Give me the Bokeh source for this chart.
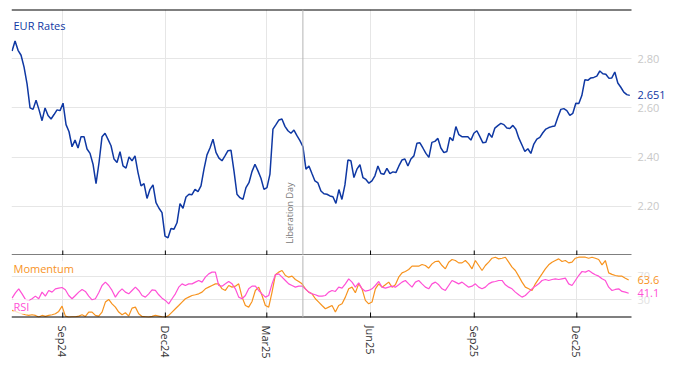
import math
import pandas as pd
from bokeh.plotting import figure
from bokeh.layouts import column
from bokeh.models import (Range1d, FixedTicker, DatetimeTickFormatter, Span, Label,
                          BoxAnnotation)
from bokeh.embed import file_html
from bokeh.resources import INLINE

# ---------------- data ----------------
rate_start = "2024-07-18"
rate_end = "2026-01-17"
eur_rates = [
    2.831, 2.872, 2.834, 2.814, 2.766, 2.698, 2.600, 2.594, 2.631, 2.592,
    2.548, 2.600, 2.569, 2.555, 2.573, 2.592, 2.589, 2.619, 2.532, 2.503,
    2.442, 2.469, 2.437, 2.483, 2.483, 2.433, 2.415, 2.371, 2.292, 2.378,
    2.483, 2.497, 2.472, 2.446, 2.392, 2.378, 2.422, 2.364, 2.355, 2.401,
    2.385, 2.405, 2.337, 2.283, 2.292, 2.232, 2.269, 2.287, 2.215, 2.192,
    2.174, 2.079, 2.072,
    2.110, 2.107, 2.133, 2.211, 2.192, 2.238, 2.249, 2.247, 2.269, 2.260,
    2.283, 2.351, 2.409, 2.437, 2.473, 2.419, 2.396, 2.385, 2.405, 2.426,
    2.428, 2.344, 2.249, 2.235, 2.228, 2.276, 2.296, 2.341, 2.371, 2.344,
    2.314, 2.269, 2.276, 2.331, 2.514, 2.532, 2.551, 2.555, 2.525, 2.507,
    2.497, 2.510, 2.487, 2.467, 2.442, 2.351, 2.364, 2.333, 2.303, 2.295, 2.262,
    2.251, 2.249, 2.242, 2.239, 2.212, 2.268, 2.228, 2.287, 2.388, 2.385,
    2.317, 2.351, 2.369, 2.317, 2.309, 2.294, 2.303, 2.324, 2.364, 2.333,
    2.330, 2.354, 2.333, 2.340, 2.337, 2.364, 2.388, 2.392, 2.364, 2.392,
    2.405, 2.456, 2.458, 2.437, 2.415, 2.399, 2.460, 2.464, 2.476, 2.437,
    2.418, 2.423, 2.480, 2.467, 2.524, 2.491, 2.483, 2.483, 2.483, 2.469, 2.497,
    2.507, 2.483, 2.458, 2.460, 2.497, 2.480, 2.518, 2.528, 2.537, 2.532,
    2.518, 2.516, 2.529, 2.513, 2.477, 2.450, 2.423, 2.434, 2.415, 2.453,
    2.473, 2.480, 2.499, 2.514, 2.520, 2.524, 2.526, 2.562, 2.594, 2.597,
    2.589, 2.570, 2.578, 2.619, 2.618, 2.650, 2.714, 2.712, 2.722, 2.724,
    2.729, 2.750, 2.739, 2.737, 2.721, 2.722, 2.746, 2.701, 2.684, 2.664,
    2.654, 2.651,
]

ind_start = "2024-07-18"
ind_end = "2026-01-16"
rsi = [
    32.8, 41.8, 48.6, 40.1, 30.6, 28.9, 31.7, 36.2, 31.7, 43.0,
    36.2, 45.8, 43.0, 48.6, 49.7, 50.8, 46.9, 37.3, 31.7, 37.3,
    43.0, 47.5, 44.1, 36.2, 30.0, 31.7, 41.8, 54.2, 59.9, 54.2,
    45.8, 34.5, 43.0, 48.6, 43.0, 40.1, 45.8, 51.4, 45.8, 37.3,
    34.5, 40.1, 46.9, 45.8, 38.5, 32.8, 28.9, 23.2, 31.7, 40.1,
    51.4, 57.0, 54.2, 57.0, 57.0, 59.9, 62.7, 59.9, 68.3, 73.9,
    76.8, 76.8, 54.2, 53.1, 57.0, 61.0, 57.0, 48.6, 34.5, 31.7,
    37.3, 48.6, 53.1, 53.1, 45.8, 40.1, 34.5, 37.3, 57.0, 72.3,
    73.9, 68.3, 62.7, 57.0, 54.2, 51.4, 53.1, 53.1, 48.6, 43.0,
    40.1, 38.5, 36.2, 36.2,
    37.3, 43.0, 45.8, 44.1, 51.4, 49.7, 57.0, 65.5, 59.9, 51.4,
    58.7, 48.6, 44.6, 45.8, 48.6, 54.2, 61.0, 51.4, 49.7, 51.4,
    53.1, 51.4, 55.4, 59.9, 62.7, 57.0, 51.4, 59.9, 62.7, 57.0,
    51.4, 48.6, 57.0, 59.9, 55.4, 48.6, 45.8, 54.2, 62.7, 59.9,
    57.0, 59.9, 55.4, 51.4, 53.1, 57.0, 51.4, 48.6, 51.4, 57.0,
    59.9, 61.0, 62.7, 62.7, 55.4, 51.4, 48.6, 43.0, 38.5, 34.5,
    37.3, 43.0, 48.6, 53.1, 57.0, 62.7, 64.4, 62.7, 64.4, 65.5,
    64.4, 65.5, 66.6, 57.0, 54.2, 62.7, 71.1, 77.9, 76.8, 79.6,
    75.6, 72.3, 70.0, 65.5, 62.7, 51.4, 45.8, 47.5, 48.6, 44.1,
    43.0, 41.1,
]
momentum = [
    12.0, 10.3, 8.0, 6.3, 4.6, 3.5, 4.6, 3.5, 0.7, 3.5,
    1.8, 3.5, 4.6, 6.3, 10.3, 19.3, 2.4, 0.7, 1.3, 1.3,
    2.4, 4.6, 1.8, 9.2, 9.2, 3.5, 2.4, 9.2, 26.1, 30.6,
    23.2, 17.6, 9.2, 4.6, 8.0, 2.4, 15.9, 17.6, 6.3, 1.8,
    1.3, 0.7, 1.8, 3.5, 2.4, 1.3, 0.7, 3.5, 9.2, 14.8,
    20.4, 26.1, 31.7, 34.5, 37.3, 38.5, 40.1, 43.0, 48.6, 51.4,
    54.2, 57.0, 57.0, 48.6, 45.8, 54.2, 51.4, 53.1, 57.0, 34.5,
    20.4, 17.6, 27.2, 45.8, 51.4, 37.3, 20.4, 17.6, 43.0, 72.3,
    76.8, 79.6, 71.1, 68.3, 70.0, 64.4, 61.0, 57.0, 48.6, 43.0,
    40.1, 31.7, 26.1, 20.4,
    14.8, 17.6, 20.4, 9.2, 20.4, 23.2, 34.5, 48.6, 51.4, 41.8,
    57.0, 48.6, 28.9, 23.2, 26.1, 48.6, 57.0, 51.4, 55.4, 59.9,
    51.4, 55.4, 68.3, 75.6, 77.9, 81.3, 86.9, 86.9, 86.9, 89.7,
    88.0, 83.5, 90.8, 94.8, 95.4, 88.0, 82.4, 93.7, 98.2, 96.5,
    92.5, 92.5, 96.5, 90.8, 82.4, 96.5, 88.0, 79.6, 88.0, 93.7,
    100.4, 102.1, 99.3, 100.4, 102.1, 93.7, 85.2, 79.6, 70.0, 59.9,
    51.4, 48.6, 45.8, 57.0, 65.5, 73.9, 82.4, 89.2, 93.7, 96.5,
    99.3, 94.8, 96.5, 92.5, 93.7, 100.4, 102.1, 102.1, 102.1, 100.4,
    102.1, 100.4, 98.2, 89.2, 96.5, 75.6, 73.0, 71.1, 70.0, 70.0,
    66.6, 63.6,
]

tick_dates = ["2024-09-01", "2024-12-01", "2025-03-01",
              "2025-06-01", "2025-09-01", "2025-12-01"]
rate_ticks = [2.2, 2.4, 2.6, 2.8]
ind_ticks = [30, 70]
event_date = "2025-04-02"
event_label = "Liberation Day"
series_title = "EUR Rates"
x_window = ("2024-07-17 12:00", "2026-01-18 12:00")   # visible chart area
rate_window = (2.0, 3.0)
ind_window = (0, 105)

# ---------------- layout / styles ----------------
BLUE = "#0f38a3"
ORANGE = "#f7931e"
MAGENTA = "#ff50d6"
GRID = "#e6e6e6"
TICKTXT = "#c8c8c8"
IND_TICKTXT = "#e2e2e2"
FONT = "Open Sans"
W = 666
LEFT = 11
CHART_W = 620                 # width of the drawn chart area (px)
GUTTER = W - LEFT - CHART_W   # value-label gutter at the right (px)


def ms(d):
    return pd.Timestamp(d).value / 1e6


x0, x_edge = ms(x_window[0]), ms(x_window[1])
x_full_end = x_edge + (x_edge - x0) * GUTTER / CHART_W
xr = Range1d(x0, x_full_end)

rate_dates = pd.date_range(rate_start, rate_end, periods=len(eur_rates))
ind_dates = pd.date_range(ind_start, ind_end, periods=len(rsi))
tick_ms = [ms(d) for d in tick_dates]

common = dict(width=W, x_axis_type="datetime", x_range=xr, y_axis_location="right",
              output_backend="svg", toolbar_location=None,
              min_border_left=LEFT, min_border_right=0)


def gutter_cover(p):
    p.add_layout(BoxAnnotation(left=x_edge, fill_color="white", fill_alpha=1.0,
                               line_alpha=0, level="underlay"))


def side_label(p, y, txt, color):
    p.add_layout(Label(x=x_edge, y=y, x_offset=6, text=txt, text_baseline="middle",
                       text_font=FONT, text_font_size="11px", text_color=color))


def hide_yaxis(p, ticks):
    ax = p.right[0]
    ax.ticker = FixedTicker(ticks=ticks)
    ax.visible = False


def rule(p, y):
    # black rule along a frame edge (half of a 2px line is clipped -> 1px)
    p.segment(x0=[x0], y0=[y], x1=[x_edge], y1=[y], line_color="black", line_width=2)


def inner_ticks(p, y):
    # month ticks pointing into the frame from its bottom edge
    p.scatter(x=tick_ms, y=[y] * len(tick_ms), marker="dash", angle=math.pi / 2,
              size=10, line_color="black", line_width=1)


# ---- main panel ----
p1 = figure(height=255, y_range=Range1d(*rate_window),
            min_border_top=9, min_border_bottom=0, **common)
p1.outline_line_color = None
hide_yaxis(p1, rate_ticks)
xa = p1.below[0]
xa.ticker = FixedTicker(ticks=tick_ms)
xa.visible = False
p1.xgrid.grid_line_color = GRID
p1.ygrid.grid_line_color = GRID
gutter_cover(p1)

p1.add_layout(Span(location=ms(event_date), dimension="height", line_color="#b4b4b4", line_width=1))
p1.line(rate_dates, eur_rates, line_color=BLUE, line_width=1.5)
rule(p1, rate_window[1])
rule(p1, rate_window[0])
inner_ticks(p1, rate_window[0])

p1.add_layout(Label(x=ms(event_date), y=rate_window[0], x_offset=-7, y_offset=12,
                    text=event_label, angle=math.pi / 2, text_align="left",
                    text_baseline="bottom", text_font=FONT, text_font_size="9px",
                    text_color="#777777"))
p1.add_layout(Label(x=x0, y=rate_window[1], x_offset=2, y_offset=-16,
                    text=series_title, text_baseline="middle", text_font=FONT,
                    text_font_size="11px", text_color=BLUE))
for t in rate_ticks:
    side_label(p1, t, f"{t:.2f}", TICKTXT)
side_label(p1, eur_rates[-1], f"{eur_rates[-1]:.3f}", BLUE)

# ---- indicator panel ----
p2 = figure(height=106, y_range=Range1d(*ind_window),
            min_border_top=0, min_border_bottom=44, **common)
p2.outline_line_color = None
hide_yaxis(p2, ind_ticks)
p2.xgrid.grid_line_color = GRID
p2.ygrid.grid_line_color = GRID
gutter_cover(p2)

p2.add_layout(Span(location=ms(event_date), dimension="height", line_color="#b4b4b4", line_width=1))
p2.line(ind_dates, momentum, line_color=ORANGE, line_width=1.2)
p2.line(ind_dates, rsi, line_color=MAGENTA, line_width=1.2)
rule(p2, ind_window[0])
inner_ticks(p2, ind_window[0])

xb = p2.below[0]
xb.ticker = FixedTicker(ticks=tick_ms)
xb.formatter = DatetimeTickFormatter(months="%b%y", days="%b%y", years="%b%y",
                                     hours="%b%y", minutes="%b%y", seconds="%b%y")
xb.major_label_orientation = "vertical"
xb.major_label_text_font = FONT
xb.major_label_text_font_size = "11px"
xb.major_label_text_color = "#333333"
xb.major_label_standoff = 8
xb.major_tick_in = 0
xb.major_tick_out = 0
xb.minor_tick_line_color = None
xb.major_tick_line_color = None
xb.axis_line_color = None

p2.add_layout(Label(x=x0, y=ind_window[1], x_offset=2, y_offset=-13, text="Momentum",
                    text_baseline="middle", text_font=FONT, text_font_size="11px",
                    text_color=ORANGE, background_fill_color="white", background_fill_alpha=0.75))
p2.add_layout(Label(x=x0, y=ind_window[0], x_offset=2, y_offset=11, text="RSI",
                    text_baseline="middle", text_font=FONT, text_font_size="11px",
                    text_color=MAGENTA, background_fill_color="white", background_fill_alpha=0.75))
for t in ind_ticks:
    side_label(p2, t, f"{t}", IND_TICKTXT)
side_label(p2, momentum[-1], f"{momentum[-1]:.1f}", ORANGE)
side_label(p2, rsi[-1], f"{rsi[-1]:.1f}", MAGENTA)

layout = column(p1, p2)
open("out.html", "w").write(file_html(layout, INLINE))
